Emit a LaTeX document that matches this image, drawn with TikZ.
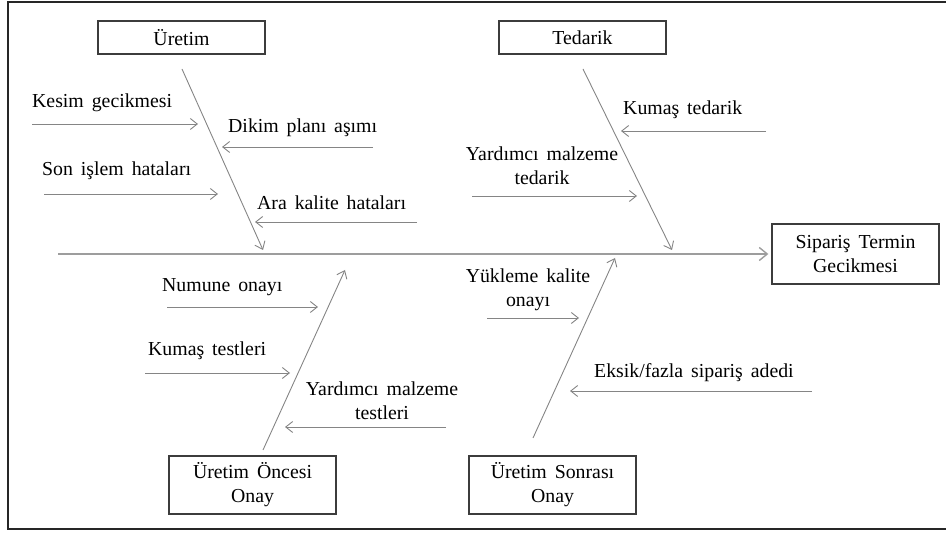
\documentclass[tikz,border=0pt]{standalone}
\usepackage{fontspec}
\setmainfont[WordSpace=1.6]{Liberation Serif}
\usetikzlibrary{arrows.meta}
\definecolor{ln}{HTML}{858585}
\definecolor{bx}{HTML}{3C3C3C}
\definecolor{tx}{HTML}{000000}
\tikzset{
  box/.style={draw=bx,line width=1.3pt,inner sep=0pt,text=tx,align=center,font=\fontsize{19.8}{24}\selectfont},
  bone/.style={draw=ln,line width=0.9pt,-{Straight Barb[length=7pt,width=11pt]}},
  spine/.style={draw=ln!80,line width=1.4pt,-{Straight Barb[length=8pt,width=13pt]}},
  lbl/.style={inner sep=0pt,text=tx,font=\fontsize{19.8}{24}\selectfont},
  lblc/.style={lbl,align=center},
  frame/.style={draw=black!85,line width=1.8pt}
}
\begin{document}
\begin{tikzpicture}[x=1pt,y=-1pt]
\useasboundingbox (0,0) rectangle (946,534);
\draw[frame] (952,2) -- (8,2) -- (8,529) -- (952,529);
% boxes
\node[box,minimum width=167pt,minimum height=33pt] (uretim) at (181.5,37.5) {Üretim};
\node[box,minimum width=167pt,minimum height=33pt] (tedarik) at (582.5,37.5) {Tedarik};
\node[box,minimum width=167pt,minimum height=60pt] (sip) at (855.5,254) {Sipariş Termin\\Gecikmesi};
\node[box,minimum width=167pt,minimum height=58pt] (onc) at (252.5,485) {Üretim Öncesi\\Onay};
\node[box,minimum width=167pt,minimum height=58pt] (son) at (552.5,485) {Üretim Sonrası\\Onay};
% spine
\coordinate (sp0) at (58,254);
\draw[spine,shorten >=3pt] (sp0) -- (sip.west);
% bones
\coordinate (b1s) at (182,69);  \coordinate (b1e) at (263,250);
\coordinate (b2s) at (583,69);  \coordinate (b2e) at (672,250);
\coordinate (b3s) at (263,450); \coordinate (b3e) at (345,270);
\coordinate (b4s) at (533,438); \coordinate (b4e) at (615,258);
\draw[bone] (b1s) -- (b1e);
\draw[bone] (b2s) -- (b2e);
\draw[bone] (b3s) -- (b3e);
\draw[bone] (b4s) -- (b4e);
% labels
\node[lbl,anchor=west] (l1) at (32,103) {Kesim gecikmesi};
\node[lbl,anchor=west] (l2) at (228,128) {Dikim planı aşımı};
\node[lbl,anchor=west] (l3) at (42,171) {Son işlem hataları};
\node[lbl,anchor=west] (l4) at (257,203) {Ara kalite hataları};
\node[lbl,anchor=west] (l5) at (623,110) {Kumaş tedarik};
\node[lblc] (l6) at (542,166) {Yardımcı malzeme\\tedarik};
\node[lbl,anchor=west] (l7) at (162,287) {Numune onayı};
\node[lbl,anchor=west] (l8) at (148,351) {Kumaş testleri};
\node[lblc] (l9) at (382,401) {Yardımcı malzeme\\testleri};
\node[lblc] (l10) at (528,290) {Yükleme kalite\\onayı};
\node[lbl,anchor=west] (l11) at (594,373) {Eksik/fazla sipariş adedi};
% sub-cause arrows
\coordinate (a1s) at (32,124);  \coordinate (a1e) at (198,124);
\coordinate (a2s) at (373,147); \coordinate (a2e) at (222,147);
\coordinate (a3s) at (44,194);  \coordinate (a3e) at (218,194);
\coordinate (a4s) at (417,222); \coordinate (a4e) at (255,222);
\coordinate (a5s) at (766,131); \coordinate (a5e) at (621,131);
\coordinate (a6s) at (472,196); \coordinate (a6e) at (637,196);
\coordinate (a7s) at (167,307); \coordinate (a7e) at (318,307);
\coordinate (a8s) at (145,373); \coordinate (a8e) at (290,373);
\coordinate (a9s) at (446,427); \coordinate (a9e) at (285,427);
\coordinate (a10s) at (487,318); \coordinate (a10e) at (579,318);
\coordinate (a11s) at (812,391); \coordinate (a11e) at (570,391);
\foreach \i in {1,...,11} { \draw[bone] (a\i s) -- (a\i e); }
\end{tikzpicture}
\end{document}
